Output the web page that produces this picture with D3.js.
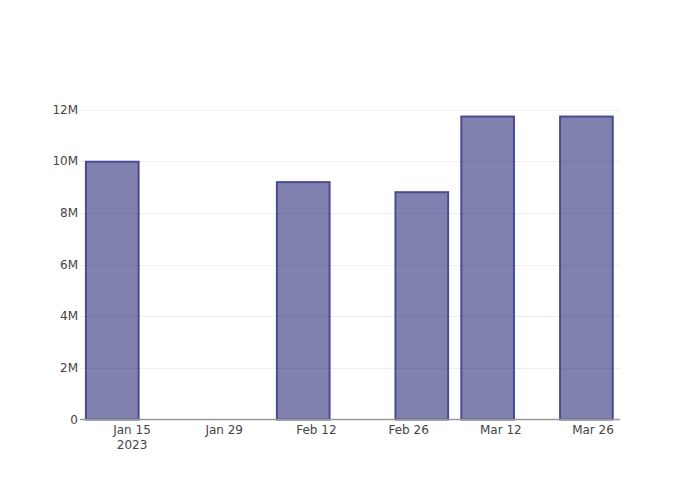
<!DOCTYPE html>
<html>
<head>
<meta charset="utf-8">
<script src="https://cdn.jsdelivr.net/npm/d3@7"></script>
<style>
  body { margin: 0; background: #fff; }
  svg { display: block; }
  text { font-family: "DejaVu Sans", sans-serif; }
</style>
</head>
<body>
<svg id="chart" width="700" height="500"></svg>
<script>
const dates = ["2023-01-12", "2023-02-10", "2023-02-28", "2023-03-10", "2023-03-25"];
const values = [9980000, 9190000, 8800000, 11730000, 11730000];
const yTicks = [0, 2000000, 4000000, 6000000, 8000000, 10000000, 12000000];
const xTicks = ["2023-01-15", "2023-01-29", "2023-02-12", "2023-02-26", "2023-03-12", "2023-03-26"];

const W = 700, H = 500;
const m = {l: 80, r: 80, t: 100, b: 80};
const svg = d3.select("#chart");
const parse = d3.utcParse("%Y-%m-%d");
const dayMs = 86400000;

const dts = dates.map(parse);
const x = d3.scaleUtc()
  .domain([new Date(dts[0].getTime() - 4.9 * dayMs), new Date(dts[dts.length - 1].getTime() + 5.1 * dayMs)])
  .range([m.l, W - m.r]);
const y = d3.scaleLinear().domain([0, 12370000]).range([H - m.b - 0.5, m.t]);

let minGap = Infinity;
for (let i = 1; i < dts.length; i++) minGap = Math.min(minGap, dts[i] - dts[i - 1]);
const halfW = 0.4 * minGap;

svg.append("g").selectAll("line").data(yTicks.filter(d => d > 0)).join("line")
  .attr("x1", m.l).attr("x2", W - m.r)
  .attr("y1", d => Math.round(y(d)) + 0.5).attr("y2", d => Math.round(y(d)) + 0.5)
  .attr("stroke", "#eee").attr("stroke-width", 1);

svg.append("g").selectAll("rect").data(dts.map((d, i) => ({d, v: values[i]}))).join("rect")
  .attr("x", d => x(new Date(d.d.getTime() - halfW)))
  .attr("width", d => x(new Date(d.d.getTime() + halfW)) - x(new Date(d.d.getTime() - halfW)))
  .attr("y", d => y(d.v))
  .attr("height", d => y(0) - y(d.v))
  .attr("fill", "rgb(25,25,112)").attr("fill-opacity", 0.55)
  .attr("stroke", "rgb(75,75,145)").attr("stroke-width", 2);

svg.append("line").attr("x1", m.l).attr("x2", W - m.r)
  .attr("y1", y(0)).attr("y2", y(0))
  .attr("stroke", "#999").attr("stroke-width", 1.5);

const fmt = v => v === 0 ? "0" : (v / 1e6) + "M";
svg.append("g").selectAll("text").data(yTicks).join("text")
  .attr("x", m.l - 2).attr("y", d => y(d)).attr("dy", "0.35em")
  .attr("text-anchor", "end").attr("font-size", 12).attr("fill", "#444")
  .text(fmt);

const xt = xTicks.map(parse);
const fmtX = d3.utcFormat("%b %-d");
svg.append("g").selectAll("text").data(xt).join("text")
  .attr("x", d => x(d)).attr("y", 433.5)
  .attr("text-anchor", "middle").attr("font-size", 12).attr("fill", "#444")
  .text(fmtX);
svg.append("text")
  .attr("x", x(xt[0])).attr("y", 448.5)
  .attr("text-anchor", "middle").attr("font-size", 12).attr("fill", "#444")
  .text(d3.utcFormat("%Y")(xt[0]));
</script>
</body>
</html>
